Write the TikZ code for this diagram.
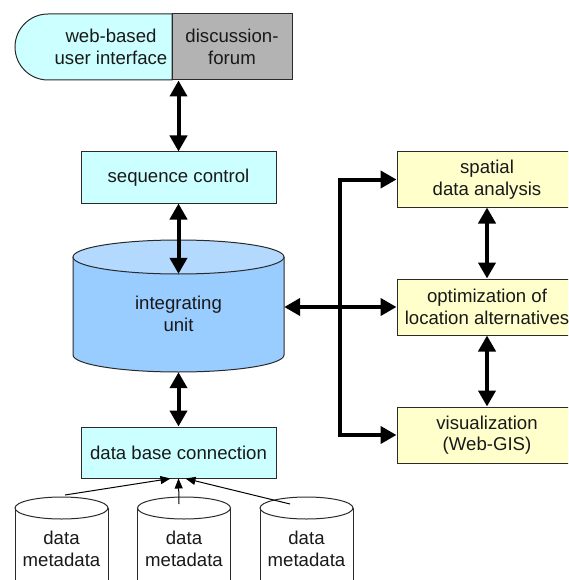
\documentclass[tikz,border=0pt]{standalone}
\usepackage{fontspec}
\setmainfont{Liberation Sans}
\usetikzlibrary{arrows.meta}
\definecolor{cyanbox}{HTML}{CCFFFF}
\definecolor{grayfill}{HTML}{B3B3B3}
\definecolor{yellowbox}{HTML}{FFFFCC}
\definecolor{cylbody}{HTML}{99CCFF}
\definecolor{cyltop}{HTML}{B3D9FF}
\definecolor{edge}{HTML}{2A2A2A}
\begin{document}
\begin{tikzpicture}[x=1pt,y=-1pt,
 every node/.style={font=\fontsize{18.6}{21.5}\selectfont, align=center, inner sep=0pt, text=black!90},
 box/.style={draw=edge, line width=1pt},
 cyanrect/.style={box, fill=cyanbox, minimum width=195pt, minimum height=51pt},
 yellowrect/.style={box, fill=yellowbox, minimum width=180pt, minimum height=56pt},
 bigarrow/.style={line width=4pt, -{Triangle[length=16pt,width=17pt]}},
 bigboth/.style={line width=4pt, {Triangle[length=16pt,width=17pt]}-{Triangle[length=16pt,width=17pt]}},
 thinarrow/.style={line width=1pt, -{Triangle[length=10pt,width=8pt]}},
]
\useasboundingbox (0,0) rectangle (568,580);
\clip (0,0) rectangle (568,580);

% top: user interface + forum
\draw[box, fill=cyanbox] (172,14) -- (48,14) arc[start angle=90, end angle=270, radius=33pt] -- (172,80) -- cycle;
\node (ui) at (111,47) {web-based\\user interface};
\node[box, fill=grayfill, minimum width=120pt, minimum height=66pt] (forum) at (232,47) {discussion-\\forum};

% sequence control
\node[cyanrect] (seq) at (178.5,177.5) {sequence control};

% integrating unit (cylinder)
\node[minimum width=211pt, minimum height=132pt] (iu) at (178.5,306) {};
\fill[cylbody] (73,257) -- (73,355) arc[start angle=180, end angle=360, x radius=105.5pt, y radius=17pt] -- (284,257) -- cycle;
\draw[box] (73,257) -- (73,355) arc[start angle=180, end angle=360, x radius=105.5pt, y radius=17pt] -- (284,257);
\draw[box, fill=cyltop] (178.5,257) ellipse[x radius=105.5pt, y radius=17pt];
\node (iutext) at (178.5,314) {integrating\\unit};

% data base connection
\node[cyanrect] (db) at (178.5,452.5) {data base connection};

% data cylinders
\foreach \cx/\nm in {61.5/d1, 184/d2, 306.5/d3}{
  \draw[box, fill=white] (\cx-46.5,508) -- (\cx-46.5,600) -- (\cx+46.5,600) -- (\cx+46.5,508);
  \draw[box, fill=white] (\cx,508) ellipse[x radius=46.5pt, y radius=11pt];
  \node (\nm) at (\cx,549) {data\\metadata};
}
\coordinate (s1) at (65,495);
\coordinate (s2) at (179,504);
\coordinate (s3) at (290,504);
\draw[thinarrow] (s1) -- ([xshift=-8pt]db.south);
\draw[thinarrow] (s2) -- (db.south);
\draw[thinarrow] (s3) -- ([xshift=7pt]db.south);

% right boxes
\node[yellowrect, minimum height=55pt] (spatial) at (487,179.5) {spatial\\data analysis};
\node[yellowrect] (opt) at (487,307) {optimization of\\location alternatives};
\node[yellowrect] (vis) at (487,435) {visualization\\(Web-GIS)};

% connectors
\draw[bigboth] (seq.north) -- (seq.north |- forum.south);
\draw[bigboth] (seq.south) -- ([yshift=-34pt]iu.north);
\draw[bigboth] (iu.south) -- (db.north);
\draw[bigboth] (iu.east |- opt.west) -- (opt.west);
\coordinate (bus) at (340,307);
\draw[bigarrow] (bus) |- (spatial.west);
\draw[bigarrow] (bus) |- (vis.west);
\draw[bigboth] (spatial.south) -- (opt.north);
\draw[bigboth] (opt.south) -- (vis.north);
\end{tikzpicture}
\end{document}
